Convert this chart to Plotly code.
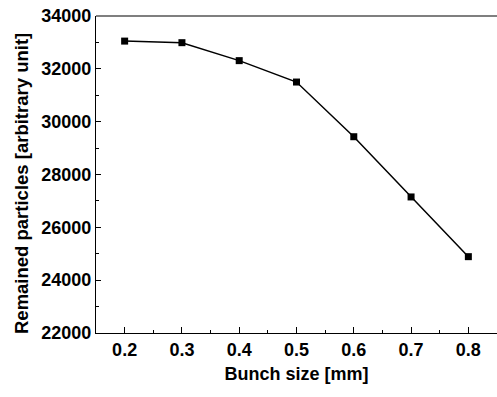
import plotly.graph_objects as go

bunch_size = [0.2, 0.3, 0.4, 0.5, 0.6, 0.7, 0.8]
particles = [33050, 32990, 32310, 31500, 29430, 27150, 24890]
x_ticks = [0.2, 0.3, 0.4, 0.5, 0.6, 0.7, 0.8]
y_ticks = [22000, 24000, 26000, 28000, 30000, 32000, 34000]

fig = go.Figure()
fig.add_trace(go.Scatter(
    x=bunch_size, y=particles, mode="lines+markers",
    line=dict(color="black", width=1.5),
    marker=dict(symbol="square", size=7, color="black"),
    showlegend=False,
))

font = dict(family="Liberation Sans, Arial, sans-serif", color="black")
fig.update_layout(
    width=497, height=397,
    margin=dict(l=96, r=0, t=16, b=64),
    paper_bgcolor="white", plot_bgcolor="white",
    font=font,
    xaxis=dict(
        range=[0.15, 0.85], tickvals=x_ticks, ticktext=[f"<b>{v}</b>" for v in x_ticks],
        ticks="inside", ticklen=6, tickwidth=1.2, tickcolor="black",
        minor=dict(ticks="inside", ticklen=3, dtick=0.05, tick0=0.15, tickcolor="black"),
        showline=True, linecolor="black", linewidth=1.2, mirror=False,
        showgrid=False, zeroline=False, automargin=False,
        tickfont=dict(size=18),
        title=dict(text="<b>Bunch size [mm]</b>", font=dict(size=18), standoff=8),
    ),
    yaxis=dict(
        range=[22000, 34000], tickvals=y_ticks, ticktext=[f"<b>{v}</b>" for v in y_ticks],
        ticks="inside", ticklen=5, tickwidth=1.2, tickcolor="black",
        minor=dict(ticks="inside", ticklen=3, dtick=1000, tick0=22000, tickcolor="black"),
        showline=True, linecolor="black", linewidth=1.2,
        showgrid=False, zeroline=False, automargin=False,
        tickfont=dict(size=18),
    ),
    annotations=[dict(text="<b>Remained particles [arbitrary unit]</b>", textangle=-90,
                      xref="paper", yref="paper", x=-0.187, y=0.47, showarrow=False,
                      xanchor="center", yanchor="middle", font=dict(size=18.5))],
    shapes=[dict(type="line", xref="paper", yref="paper", x0=0, x1=1, y0=1, y1=1,
                 line=dict(color="black", width=1.2))],
)
fig.write_html("out.html", config={"displayModeBar": False},
               post_script="document.body.style.margin='0';")
